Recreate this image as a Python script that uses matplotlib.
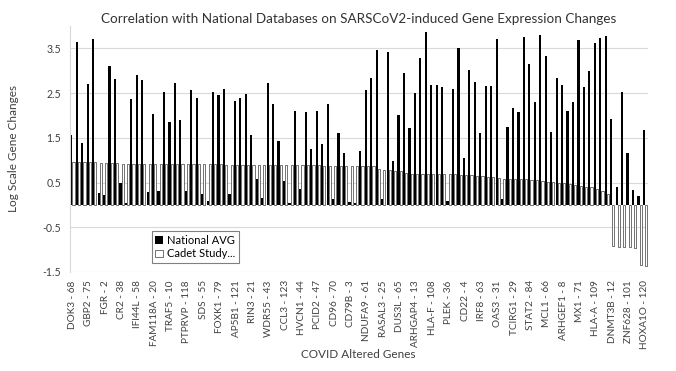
import numpy as np
import matplotlib as mpl
import matplotlib.pyplot as plt

mpl.use("Agg")
mpl.rcParams["font.family"] = ["Lato", "DejaVu Sans"]

# tick labels: only every third gene is labelled on the axis
gene_labels = [
    "DOK3 - 68", "GBP2 - 75", "FGR - 2", "CR2 - 38", "IFI44L - 58",
    "FAM118A - 20", "TRAF5 - 10", "PTPRVP - 118", "SDS - 55", "FOXK1 - 79",
    "AP5B1 - 121", "RIN3 - 21", "WDR55 - 43", "CCL3 - 123", "HVCN1 - 44",
    "PCID2 - 47", "CD96 - 70", "CD79B - 3", "NDUFA9 - 61", "RASAL3 - 25",
    "DUS3L - 65", "ARHGAP4 - 13", "HLA-F - 108", "PLEK - 36", "CD22 - 4",
    "IRF8 - 63", "OAS3 - 31", "TCIRG1 - 29", "STAT2 - 84", "MCL1 - 66",
    "ARHGEF1 - 8", "MX1 - 71", "HLA-A - 109", "DNMT3B - 12", "ZNF628 - 101",
    "HOXA1O - 120",
]

national_avg = [
    1.56, 3.65, 1.38, 2.71, 3.70, 0.26, 0.22, 3.10, 2.81, 0.48,
    0.05, 2.36, 2.90, 2.79, 0.28, 2.03, 0.31, 2.52, 1.85, 2.72,
    1.90, 0.31, 2.58, 2.40, 0.24, 0.09, 2.52, 2.46, 2.60, 0.24,
    2.33, 2.40, 2.49, 1.56, 0.58, 0.15, 2.72, 2.26, 1.43, 0.53,
    0.05, 2.11, 0.35, 2.08, 1.25, 2.11, 1.37, 2.26, 0.14, 1.61,
    1.17, 0.06, 0.05, 1.20, 2.57, 2.84, 3.46, 0.14, 3.42, 0.99,
    2.02, 2.94, 1.71, 2.51, 3.29, 3.87, 2.67, 2.69, 2.64, 0.08,
    2.60, 3.51, 1.04, 3.02, 2.74, 1.61, 2.65, 2.65, 3.72, 0.13,
    1.75, 2.17, 2.08, 3.76, 3.16, 2.31, 3.80, 3.33, 1.64, 2.84,
    2.68, 2.11, 2.29, 3.69, 2.64, 2.99, 3.62, 3.74, 3.78, 1.92,
    0.41, 2.53, 1.17, 0.34, 0.21, 1.67,
]

cadet_study = [
    0.97, 0.96, 0.96, 0.95, 0.95, 0.94, 0.93, 0.93, 0.93, 0.92,
    0.92, 0.92, 0.92, 0.92, 0.92, 0.92, 0.92, 0.91, 0.91, 0.91,
    0.91, 0.91, 0.91, 0.91, 0.91, 0.91, 0.91, 0.91, 0.90, 0.90,
    0.90, 0.90, 0.90, 0.90, 0.89, 0.89, 0.89, 0.89, 0.89, 0.89,
    0.89, 0.89, 0.89, 0.89, 0.89, 0.89, 0.88, 0.88, 0.88, 0.88,
    0.88, 0.87, 0.87, 0.87, 0.87, 0.86, 0.80, 0.78, 0.78, 0.76,
    0.75, 0.71, 0.70, 0.70, 0.70, 0.69, 0.69, 0.69, 0.68, 0.68,
    0.68, 0.67, 0.66, 0.66, 0.65, 0.64, 0.63, 0.62, 0.61, 0.59,
    0.59, 0.57, 0.57, 0.57, 0.55, 0.55, 0.54, 0.52, 0.51, 0.49,
    0.48, 0.46, 0.45, 0.43, 0.41, 0.39, 0.36, 0.31, 0.25, -0.91,
    -0.93, -0.93, -0.94, -0.96, -1.35, -1.36,
]


def plot_chart():
    x = np.arange(len(national_avg))
    w = 0.4

    fig = plt.figure(figsize=(6.76, 3.71), dpi=100)
    ax = fig.add_axes([69.7 / 676, (371 - 272) / 371, 578 / 676, 246 / 371])

    ax.bar(x - w / 2, national_avg, width=w, color="black", label="National AVG")
    ax.bar(x + w / 2, cadet_study, width=w, facecolor="white",
           edgecolor="#3a3a3a", linewidth=0.5, label="Cadet Study...")

    ax.set_xlim(-0.5, len(national_avg) - 0.5)
    ax.set_ylim(-1.5, 4.0)
    ax.set_yticks(np.arange(-1.5, 4.0, 1.0))
    ax.set_yticklabels([f"{v:.1f}" for v in np.arange(-1.5, 4.0, 1.0)])
    ax.set_xticks(x[::3])
    ax.set_xticklabels(gene_labels, rotation=90)
    ax.tick_params(axis="both", length=0, labelsize=7.2, colors="#404040")
    ax.tick_params(axis="x", pad=6)
    ax.tick_params(axis="y", pad=6, labelsize=7.6)
    ax.yaxis.grid(True, color="#d9d9d9", linewidth=0.8)
    ax.set_axisbelow(True)
    for s in ["top", "right", "bottom"]:
        ax.spines[s].set_visible(False)
    ax.spines["left"].set_color("#d9d9d9")

    ax.set_title("Correlation with National Databases on SARSCoV2-induced Gene Expression Changes",
                 fontsize=9.7, color="#333333", pad=2)
    ax.set_xlabel("COVID Altered Genes", fontsize=8.5, color="#404040")
    ax.xaxis.set_label_coords(0.5, -0.315)
    ax.set_ylabel("Log Scale Gene Changes", fontsize=8.5, color="#404040", labelpad=17)

    leg = ax.legend(loc="lower left", bbox_to_anchor=(0.132, 0.015), fontsize=8,
                    handlelength=0.7, handleheight=0.7, handletextpad=0.4,
                    borderpad=0.3, labelspacing=0.25, fancybox=False,
                    framealpha=1)
    leg.get_frame().set_edgecolor("#808080")
    leg.get_frame().set_linewidth(0.8)

    fig.savefig("out.png", dpi=100)


if __name__ == "__main__":
    plot_chart()
